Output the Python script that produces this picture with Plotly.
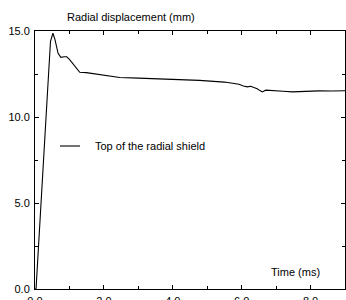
import plotly.graph_objects as go

time_ms = [0.0, 0.03, 0.35, 0.45, 0.52, 0.58, 0.67, 0.75, 0.85, 0.92, 1.0, 1.06, 1.18, 1.30,
           1.49, 1.78, 2.1, 2.46, 3.0, 3.8, 4.77, 5.5, 5.74, 5.92, 6.05, 6.17, 6.26, 6.36,
           6.45, 6.52, 6.6, 6.7, 6.8, 6.98, 7.2, 7.47, 7.95, 8.24, 8.6, 9.0]
displacement_mm = [0.0, 0.0, 11.0, 14.4, 14.87, 14.5, 13.7, 13.47, 13.5, 13.5, 13.35, 13.2,
                   12.85, 12.6, 12.58, 12.5, 12.38, 12.3, 12.26, 12.2, 12.13, 12.03, 11.98,
                   11.9, 11.8, 11.75, 11.79, 11.72, 11.64, 11.55, 11.46, 11.56, 11.54, 11.51,
                   11.5, 11.46, 11.5, 11.52, 11.51, 11.53]

x_tickvals = [0, 2, 4, 6, 8]
x_ticktext = ["0.0", "2.0", "4.0", "6.0", "8.0"]
y_tickvals = [0, 5, 10, 15]
y_ticktext = ["0.0", "5.0", "10.0", "15.0"]

series_name = "Top of the radial shield"
y_title = "Radial displacement (mm)"
x_title = "Time (ms)"

FONT = "Liberation Sans, Arial, sans-serif"
FS = 11

fig = go.Figure()
fig.add_trace(go.Scatter(x=time_ms, y=displacement_mm, mode="lines",
                         line=dict(color="black", width=1.1), name=series_name,
                         showlegend=False))

axis_common = dict(showgrid=False, zeroline=False, showline=True, linecolor="black",
                   linewidth=1, mirror="ticks", ticks="inside", tickcolor="black",
                   ticklen=4, tickwidth=1, automargin=False,
                   tickfont=dict(family=FONT, size=FS, color="black"))

fig.update_xaxes(range=[0, 9], tickvals=x_tickvals, ticktext=x_ticktext,
                 minor=dict(dtick=1, ticks="inside", ticklen=3, tickcolor="black"),
                 ticklabelstandoff=2, **axis_common)
fig.update_yaxes(range=[0, 15], tickvals=y_tickvals, ticktext=y_ticktext,
                 minor=dict(dtick=2.5, ticks="inside", ticklen=3, tickcolor="black"),
                 ticklabelstandoff=2, **axis_common)

# legend drawn manually
fig.add_shape(type="line", xref="paper", yref="paper", x0=25/310, x1=45/310,
              y0=(289-146)/258, y1=(289-146)/258, line=dict(color="black", width=1.1))
fig.add_annotation(text=series_name, xref="paper", yref="paper", x=58/310,
                   y=(289-146)/258, xanchor="left", yanchor="middle", showarrow=False,
                   font=dict(family=FONT, size=FS, color="black"))
fig.add_annotation(text=y_title, xref="paper", yref="paper", x=30/310, y=1 + 14/258,
                   xanchor="left", yanchor="middle", showarrow=False,
                   font=dict(family=FONT, size=FS, color="black"))
fig.add_annotation(text=x_title, xref="paper", yref="paper", x=287/310, y=(289-272)/258,
                   xanchor="right", yanchor="middle", showarrow=False,
                   font=dict(family=FONT, size=FS, color="black"))

fig.update_layout(width=346, height=300, margin=dict(l=35, r=1, t=31, b=11),
                  plot_bgcolor="white", paper_bgcolor="white",
                  font=dict(family=FONT, size=FS, color="black"))

fig.write_html("out.html", config={"displayModeBar": False, "staticPlot": True},
               post_script="document.body.style.margin='0px';document.body.style.overflow='hidden';")
